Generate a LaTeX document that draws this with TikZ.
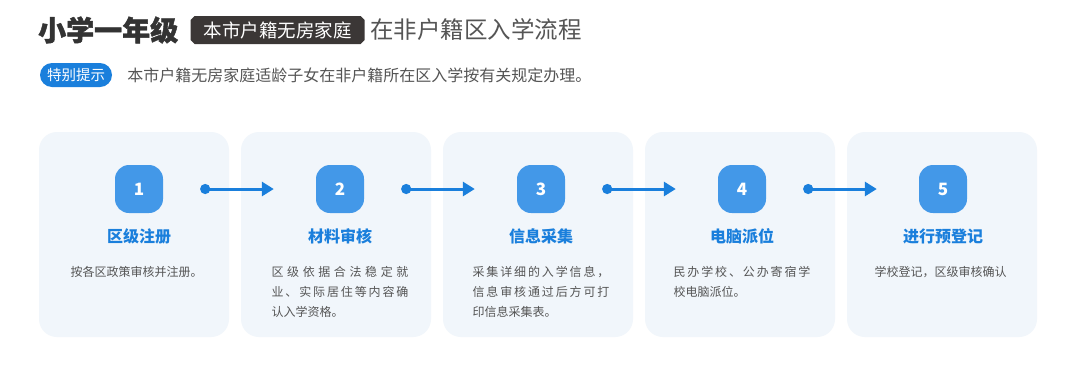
\documentclass[tikz,border=0pt]{standalone}
\usepackage{fontspec}
\setmainfont{Noto Sans CJK SC}
\usepackage{tikz}
\usetikzlibrary{arrows.meta,positioning,shapes.misc}
\definecolor{stepblue}{HTML}{4398E8}
\definecolor{flowblue}{HTML}{1A7FDC}
\definecolor{cardbg}{HTML}{F1F6FB}
\definecolor{inkdark}{HTML}{333333}
\definecolor{tagdark}{HTML}{3B3736}
\definecolor{textgray}{HTML}{555555}
\newlength{\descw}
\setlength{\descw}{137pt}
% spread the characters of one line over the full text width
\newcommand{\spreadline}[1]{\makebox[\descw][s]{\spreadchars#1\relax\relax}}
\def\spreadchars#1#2{#1\ifx\relax#2\else\hfill\expandafter\spreadchars\expandafter#2\fi}

\begin{document}
\begin{tikzpicture}[
  x=1pt,y=1pt,
  every node/.style={inner sep=0pt},
  card/.style={fill=cardbg,rounded corners=18pt,minimum width=190pt,minimum height=205pt},
  numbox/.style={fill=stepblue,rounded corners=14pt,minimum size=48pt,text=white,font=\fontsize{17}{17}\selectfont\bfseries},
  steptitle/.style={text=flowblue,font=\fontsize{16}{16}\selectfont\bfseries},
  stepdesc/.style={text=textgray,font=\fontsize{12}{20}\selectfont,text width=\descw,align=left},
  tagbox/.style={chamfered rectangle,chamfered rectangle xsep=2pt,chamfered rectangle ysep=2pt,fill=tagdark,text=white,minimum height=28pt,inner xsep=11pt,font=\fontsize{18.5}{18.5}\selectfont},
  hintpill/.style={fill=flowblue,text=white,rounded corners=12pt,minimum height=24pt,inner xsep=7pt,font=\fontsize{14.5}{14.5}\selectfont},
  flow/.style={{Circle[length=10pt]}-{Triangle[length=12pt,width=14pt]},line width=3pt,draw=flowblue}
]
\useasboundingbox[fill=white] (0,0) rectangle (1080,-365);

% heading
\node[anchor=west,text=inkdark,font=\fontsize{28}{28}\selectfont\bfseries\addfontfeature{FakeBold=1.5}] (head) at (38,-30) {小学一年级};
\node[tagbox,right=12pt of head] (tag) {本市户籍无房家庭};
\node[right=5pt of tag,text=textgray,font=\fontsize{23.5}{23.5}\selectfont] (subhead) {在非户籍区入学流程};

\node[hintpill] (hint) at (76,-75) {特别提示};
\node[right=15pt of hint,text=textgray,font=\fontsize{16}{16}\selectfont] (hinttext) {本市户籍无房家庭适龄子女在非户籍所在区入学按有关规定办理。};

% steps
\foreach \i/\ttl/\txt in {
  1/区级注册/{按各区政策审核并注册。},
  2/材料审核/{\spreadline{区级依据合法稳定就}\\\spreadline{业、实际居住等内容确}\\认入学资格。},
  3/信息采集/{\spreadline{采集详细的入学信息，}\\\spreadline{信息审核通过后方可打}\\印信息采集表。},
  4/电脑派位/{\spreadline{民办学校、公办寄宿学}\\校电脑派位。},
  5/进行预登记/{学校登记，区级审核确认}} {
  \node[card] (card\i) at ({134+202*(\i-1)},-234.5) {};
  \node[numbox] (num\i) at ({139+201*(\i-1)},-189) {\i};
  \node[steptitle,below=15pt of num\i] (title\i) {\ttl};
  \node[stepdesc,below=22pt of title\i] (desc\i) {\txt};
}

\foreach \i/\j in {1/2,2/3,3/4,4/5}
  \draw[flow] ([xshift=37pt]num\i.east) -- ([xshift=-42pt]num\j.west);
\end{tikzpicture}
\end{document}
